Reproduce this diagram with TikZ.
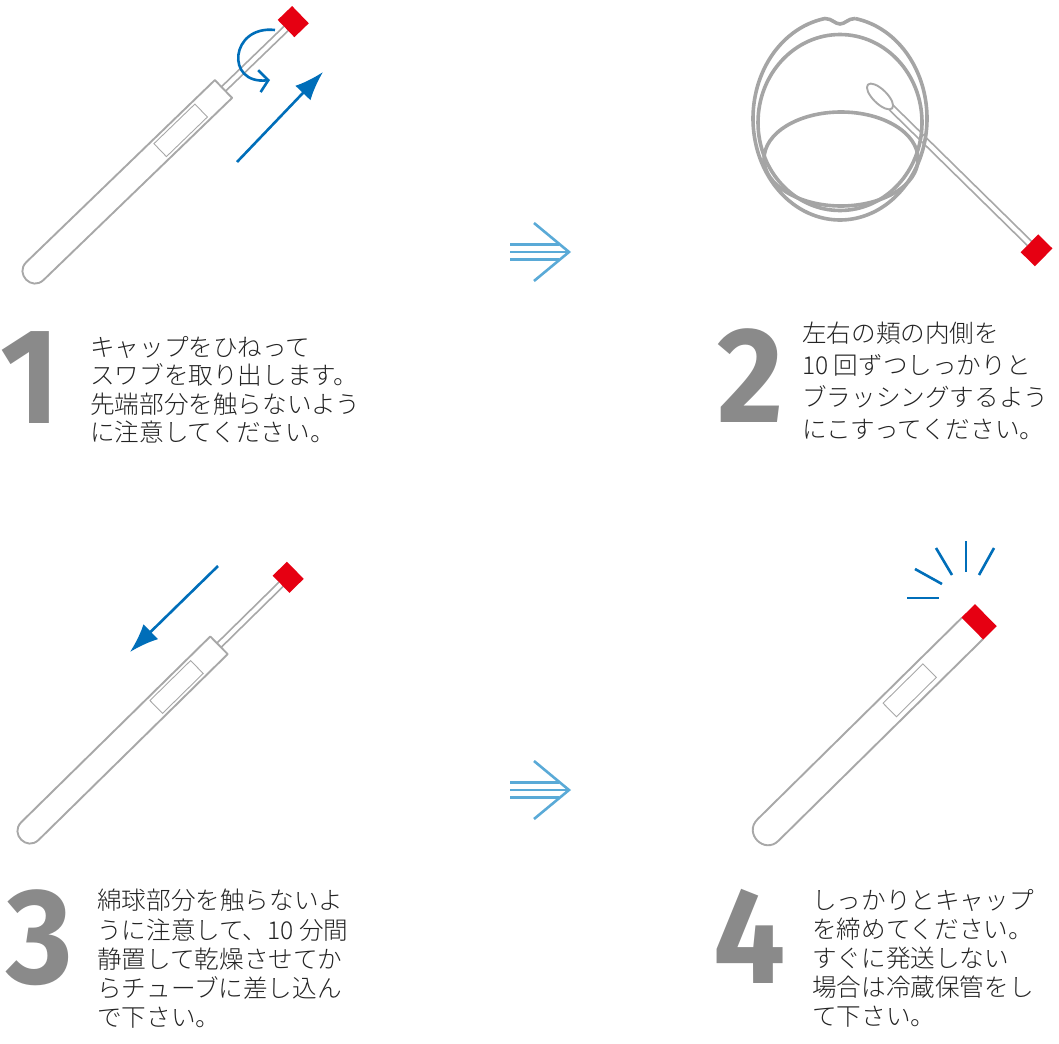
\documentclass[tikz,border=0pt]{standalone}
\usepackage{fontspec}
\usetikzlibrary{arrows.meta}
\IfFontExistsTF{Noto Sans CJK JP Light}
  {\newfontfamily\jpfont{Noto Sans CJK JP Light}}
  {\newfontfamily\jpfont{Noto Sans CJK JP}}
\newfontfamily\numfont{Fira Sans}
\definecolor{tubegray}{RGB}{168,168,168}
\definecolor{facegray}{RGB}{165,165,165}
\definecolor{capred}{RGB}{230,0,18}
\definecolor{swabblue}{RGB}{0,110,185}
\definecolor{hintblue}{RGB}{90,170,215}
\definecolor{numgray}{RGB}{138,138,138}
\definecolor{textblack}{RGB}{35,35,35}
\tikzset{
  tube/.style={draw=tubegray, line width=1.9pt, line join=round},
  tagbox/.style={draw=tubegray, line width=0.9pt},
  rod/.style={draw=tubegray, line width=1.6pt},
  face/.style={draw=facegray, line width=3.6pt},
  motion/.style={draw=swabblue, line width=2.6pt},
  nextarrow/.style={draw=hintblue, line width=2.6pt},
  stepnum/.style={font=\numfont\bfseries\fontsize{136}{136}\selectfont, text=numgray, inner sep=0pt, anchor=base, transform shape, xscale=0.94},
  steptext/.style={text=textblack, inner sep=0pt, anchor=north west, align=left}
}

\begin{document}
\begin{tikzpicture}[x=1pt, y=-1pt]
    \useasboundingbox (0,0) rectangle (1059,1043);

    % tube with swab pulled out (steps 1 and 3)
    \foreach \px/\py/\ang/\len in {35/271/44/262, 30/831/44.5/265}{
        \begin{scope}[shift={(\px,\py)}, rotate=\ang]
            \draw[tube] (\len,-12.4) -- (0,-12.4) .. controls (-16.5,-12.4) and (-16.5,12.4) .. (0,12.4) -- (\len,12.4) -- cycle;
            \draw[tagbox] (\len-88,-9) rectangle (\len-31,9);
            \draw[rod] (\len,-3) -- (\len+87,-3) (\len,3) -- (\len+87,3);
            \fill[capred] (\len+87,-12) rectangle (\len+107,12);
        \end{scope}
    }

    % step 1: twist and pull
    \coordinate (twistA) at (275,30);
    \coordinate (twistB) at (270,80);
    \draw[motion, -{Straight Barb[length=9pt, width=22pt]}] (twistA) .. controls (230,25) and (225,85) .. (twistB);
    \coordinate (pullA) at (237,162);
    \coordinate (pullB) at (323,72);
    \draw[motion, -{Latex[length=29pt, width=21pt]}] (pullA) -- (pullB);

    % step 2: mouth and swab
    \draw[face] plot[domain=-80:260, samples=120, smooth] ({840+87*cos(\x)},{118.5+101.5*sin(\x)})
        .. controls (832,18.5) and (835,24) .. (840,24) .. controls (845,24) and (848,18.5) .. (855.1,18.5);
    \draw[face] (840,122.5) circle[x radius=82, y radius=88];
    \draw[face] (841,159) circle[x radius=77, y radius=47];
    \begin{scope}[shift={(880,96.5)}, rotate=-44.5]
        \draw[tube, fill=white] (0,0) circle[x radius=17, y radius=7];
        \draw[rod] (16,-3) -- (209.5,-3) (16,3) -- (209.5,3);
        \fill[capred] (209.5,-12.5) rectangle (229.5,12.5);
    \end{scope}

    % step 3: push back
    \coordinate (pushA) at (218,566);
    \coordinate (pushB) at (130,652);
    \draw[motion, -{Latex[length=29pt, width=21pt]}] (pushA) -- (pushB);

    % step 4: closed tube
    \begin{scope}[shift={(768,830)}, rotate=44.6]
        \draw[tube] (287,-15) -- (0,-15) .. controls (-20,-15) and (-20,15) .. (0,15) -- (287,15);
        \draw[tagbox] (171,-9.5) rectangle (227,9.5);
        \fill[capred] (287,-15.5) rectangle (306,15.5);
    \end{scope}
    \foreach \ax/\ay/\bx/\by in {907/598/939/598, 915/569/942/584, 936/548/952/575, 966/541/966/572, 994/548/979/575}
        \draw[motion] (\ax,\ay) -- (\bx,\by);

    % arrows between the steps
    \foreach \dy in {0,538}{
        \begin{scope}[yshift=-\dy pt]
            \draw[nextarrow] (510,252) -- (569,252) (510,244.5) -- (559,244.5) (510,259.5) -- (559,259.5);
            \draw[nextarrow] (534,223) -- (569,252) -- (534,281);
        \end{scope}
    }

    % numbers and instructions
    \node[stepnum] (num1) at (30,423) {1};
    \node[stepnum] (num2) at (751,422) {2};
    \node[stepnum] (num3) at (40,983) {3};
    \node[stepnum] (num4) at (750,983) {4};

    \node[steptext, font=\jpfont\fontsize{24.6}{28.5}\selectfont] (text1) at (90,336)
        {キャップをひねって\\スワブを取り出します。\\先端部分を触らないよう\\に注意してください。};
    \node[steptext, font=\jpfont\fontsize{24.6}{32}\selectfont] (text2) at (802,322)
        {左右の頬の内側を\\10 回ずつしっかりと\\ブラッシングするよう\\にこすってください。};
    \node[steptext, font=\jpfont\fontsize{24.6}{29.3}\selectfont] (text3) at (97,889)
        {綿球部分を触らないよ\\うに注意して、10 分間\\静置して乾燥させてか\\らチューブに差し込ん\\で下さい。};
    \node[steptext, font=\jpfont\fontsize{24.6}{29}\selectfont] (text4) at (812,889)
        {しっかりとキャップ\\を締めてください。\\すぐに発送しない\\場合は冷蔵保管をし\\て下さい。};
\end{tikzpicture}
\end{document}
